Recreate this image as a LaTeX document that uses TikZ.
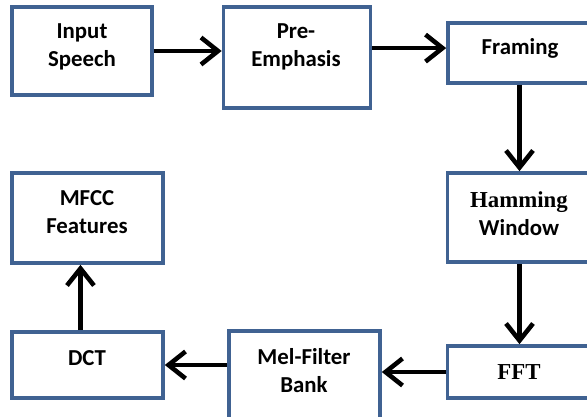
\documentclass[tikz,border=0pt]{standalone}
\usepackage{fontspec}
\setmainfont{Carlito}
\newfontfamily\serifbold{Liberation Serif}
\usepackage{tikz}
\usetikzlibrary{arrows.meta}
\definecolor{boxblue}{RGB}{64,98,146}

\tikzset{
  blk/.style={draw=boxblue,line width=2.1pt,fill=white,inner sep=0pt},
  txt/.style={font=\fontsize{13}{16}\selectfont\bfseries,align=center,inner sep=0pt},
  flow/.style={line width=2.6pt,-{Straight Barb[length=3.4mm,width=5.4mm]}}
}

\begin{document}
\begin{tikzpicture}[x=0.02cm,y=-0.02cm]
  \useasboundingbox (0,0) rectangle (587,416);
  \clip (0,0) rectangle (587,416);

  % boxes
  \node[blk,minimum width=2.8cm,minimum height=1.76cm]  (in)   at (82,51)      {};
  \node[blk,minimum width=2.94cm,minimum height=2.02cm] (pre)  at (297,57.5)   {};
  \node[blk,minimum width=2.86cm,minimum height=1.2cm]  (fr)   at (519.5,53)   {};
  \node[blk,minimum width=2.88cm,minimum height=1.78cm] (ham)  at (519.5,217.5){};
  \node[blk,minimum width=2.88cm,minimum height=1.04cm] (fft)  at (519.5,372)  {};
  \node[blk,minimum width=3.02cm,minimum height=1.78cm] (mel)  at (304.5,375.5){};
  \node[blk,minimum width=3.02cm,minimum height=1.32cm] (dct)  at (87.5,365)   {};
  \node[blk,minimum width=3.02cm,minimum height=1.8cm]  (mfcc) at (87.5,218)   {};

  % texts
  \node[txt] (in-t)   at (82,47)    {Input\\Speech};
  \node[txt] (pre-t)  at (296,47)   {Pre-\\Emphasis};
  \node[txt] (fr-t)   at (520,48)   {Framing};
  \node[txt] (ham-t)  at (519,214)  {{\serifbold Hamming}\\Window};
  \node[txt,font=\fontsize{13}{16}\selectfont\serifbold\bfseries] (fft-t) at (519,372) {FFT};
  \node[txt] (mel-t)  at (304,371)  {Mel-Filter\\Bank};
  \node[txt] (dct-t)  at (87,358)   {DCT};
  \node[txt] (mfcc-t) at (87,212.5) {MFCC\\Features};

  % flow
  \path[flow] (in.east) edge (in.east -| pre.west)
        ([yshift=2.8pt]pre.east |- fr.west) edge ([yshift=2.8pt]fr.west)
        (fr.south) edge (ham.north)
        (ham.south) edge (fft.north)
        (fft.west) edge (fft.west -| mel.east)
        (mel.west |- dct.east) edge (dct.east)
        ([xshift=-4pt]dct.north) edge ([xshift=-4pt]mfcc.south);
\end{tikzpicture}
\end{document}
